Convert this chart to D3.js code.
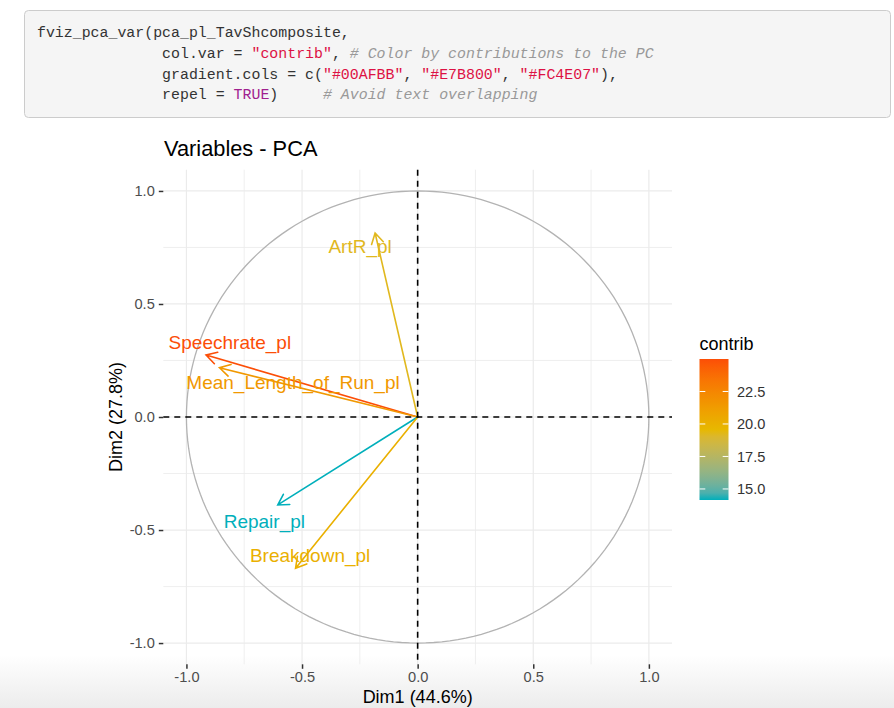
<!DOCTYPE html>
<html>
<head>
<meta charset="utf-8">
<script src="https://cdn.jsdelivr.net/npm/d3@7"></script>
<style>
  html, body { margin: 0; padding: 0; background: #fff; }
  svg { display: block; }
  text { font-family: "Liberation Sans", Arial, Helvetica, sans-serif; }
  .code { font-family: "Liberation Mono", "DejaVu Sans Mono", monospace; font-size: 14.9px; white-space: pre; }
</style>
</head>
<body>
<script>
// Variables and their coordinates on the first two dimensions.
const varNames = ["Speechrate_pl", "Mean_Length_of_Run_pl", "ArtR_pl", "Repair_pl", "Breakdown_pl"];
const dim1 = [-0.915, -0.857, -0.184, -0.605, -0.528];
const dim2 = [0.274, 0.218, 0.814, -0.389, -0.669];
const contrib = [25.0, 21.5, 19.3, 14.15, 20.05];

// Label anchors after repel (data units).
const labelDim1 = [-0.812, -0.539, -0.249, -0.663, -0.465];
const labelDim2 = [0.329, 0.156, 0.756, -0.459, -0.611];

const majorTicks = [-1, -0.5, 0, 0.5, 1];
const minorTicks = [-0.75, -0.25, 0.25, 0.75];
const legendTicks = [15, 17.5, 20, 22.5];
const gradientCols = ["#00AFBB", "#E7B800", "#FC4E07"];

// The R call shown above the chart, as [text, style] pieces.
const codeLines = [
  [["fviz_pca_var(pca_pl_TavShcomposite,", "plain"]],
  [["              col.var = ", "plain"], ["\"contrib\"", "str"], [", ", "plain"], ["# Color by contributions to the PC", "com"]],
  [["              gradient.cols = c(", "plain"], ["\"#00AFBB\"", "str"], [", ", "plain"], ["\"#E7B800\"", "str"], [", ", "plain"], ["\"#FC4E07\"", "str"], ["),", "plain"]],
  [["              repel = ", "plain"], ["TRUE", "kw"], [")     ", "plain"], ["# Avoid text overlapping", "com"]],
];
const codeColors = { plain: "#333333", str: "#dd1144", com: "#999999", kw: "#a0208f" };

const width = 894;
const height = 708;

const svg = d3.select("body").append("svg").attr("width", width).attr("height", height);

// Code block.
svg.append("rect")
  .attr("x", 24.5).attr("y", 10.5).attr("width", 866).attr("height", 107)
  .attr("rx", 4).attr("fill", "#f5f5f5").attr("stroke", "#cccccc");

codeLines.forEach((line, i) => {
  const t = svg.append("text").attr("class", "code")
    .attr("x", 37).attr("y", 37 + i * 20.8);
  line.forEach(([s, kind]) => {
    t.append("tspan").text(s)
      .attr("fill", codeColors[kind])
      .attr("font-style", kind === "com" ? "italic" : null);
  });
});

// Bottom fade from the screenshot.
const defs = svg.append("defs");
const fade = defs.append("linearGradient").attr("id", "fade")
  .attr("x1", 0).attr("y1", 0).attr("x2", 0).attr("y2", 1);
fade.append("stop").attr("offset", "0%").attr("stop-color", "#ffffff");
fade.append("stop").attr("offset", "100%").attr("stop-color", "#ececec");
svg.append("rect").attr("x", 0).attr("y", 655).attr("width", width).attr("height", height - 655)
  .attr("fill", "url(#fade)");

// Scales.
const panel = { left: 163.3, right: 672, top: 169.7, bottom: 664.3 };
const x = d3.scaleLinear().domain([-1.1, 1.1]).range([panel.left, panel.right]);
const y = d3.scaleLinear().domain([-1.094, 1.094]).range([panel.bottom, panel.top]);

const cExtent = d3.extent(contrib);
const color = d3.scaleLinear()
  .domain([cExtent[0], (cExtent[0] + cExtent[1]) / 2, cExtent[1]])
  .range(gradientCols)
  .interpolate(d3.interpolateLab);

// Grid lines.
const grid = svg.append("g").attr("stroke", "#ebebeb").attr("fill", "none");
minorTicks.forEach((v) => {
  grid.append("line").attr("x1", x(v)).attr("x2", x(v)).attr("y1", panel.top).attr("y2", panel.bottom).attr("stroke-width", 0.8);
  grid.append("line").attr("y1", y(v)).attr("y2", y(v)).attr("x1", panel.left).attr("x2", panel.right).attr("stroke-width", 0.8);
});
majorTicks.forEach((v) => {
  grid.append("line").attr("x1", x(v)).attr("x2", x(v)).attr("y1", panel.top).attr("y2", panel.bottom).attr("stroke-width", 1.2);
  grid.append("line").attr("y1", y(v)).attr("y2", y(v)).attr("x1", panel.left).attr("x2", panel.right).attr("stroke-width", 1.2);
});

// Correlation circle.
const angles = d3.range(0, 2 * Math.PI + 0.01, Math.PI / 90);
svg.append("path")
  .attr("d", d3.line().x((a) => x(Math.cos(a))).y((a) => y(Math.sin(a)))(angles))
  .attr("fill", "none").attr("stroke", "#b3b3b3").attr("stroke-width", 1.3);

// Arrows.
const vars = varNames.map((name, i) => ({
  name, x: dim1[i], y: dim2[i], c: contrib[i], lx: labelDim1[i], ly: labelDim2[i],
}));
const headLen = 12;
const gArrows = svg.append("g").attr("fill", "none").attr("stroke-width", 1.6).attr("stroke-linecap", "round");
vars.forEach((d) => {
  const x0 = x(0), y0 = y(0), x1 = x(d.x), y1 = y(d.y);
  const ang = Math.atan2(y1 - y0, x1 - x0);
  const a1 = ang + Math.PI - Math.PI / 6;
  const a2 = ang + Math.PI + Math.PI / 6;
  gArrows.append("path")
    .attr("stroke", color(d.c))
    .attr("d", `M${x0},${y0}L${x1},${y1}M${x1 + headLen * Math.cos(a1)},${y1 + headLen * Math.sin(a1)}L${x1},${y1}L${x1 + headLen * Math.cos(a2)},${y1 + headLen * Math.sin(a2)}`);
});

// Labels.
svg.append("g").selectAll("text").data(vars).join("text")
  .attr("x", (d) => x(d.lx)).attr("y", (d) => y(d.ly))
  .attr("dy", "0.36em")
  .attr("text-anchor", "middle")
  .attr("font-size", 19)
  .attr("fill", (d) => color(d.c))
  .text((d) => d.name);

// Dashed axes through the origin.
const dash = svg.append("g").attr("stroke", "#000").attr("stroke-width", 1.6).attr("stroke-dasharray", "6,5");
dash.append("line").attr("x1", panel.left).attr("x2", panel.right).attr("y1", y(0)).attr("y2", y(0));
dash.append("line").attr("x1", x(0)).attr("x2", x(0)).attr("y1", panel.top).attr("y2", panel.bottom);

// Axes (ggplot prints a plain hyphen for negatives).
const fmt = (v) => d3.format(".1f")(v).replace("\u2212", "-");
const xAxis = svg.append("g").attr("transform", `translate(0,${panel.bottom})`)
  .call(d3.axisBottom(x).tickValues(majorTicks).tickFormat(fmt).tickSize(4.5).tickPadding(3));
const yAxis = svg.append("g").attr("transform", `translate(${panel.left},0)`)
  .call(d3.axisLeft(y).tickValues(majorTicks).tickFormat(fmt).tickSize(4.5).tickPadding(4));
[xAxis, yAxis].forEach((g) => {
  g.select(".domain").remove();
  g.selectAll(".tick line").attr("stroke", "#333333").attr("stroke-width", 1.5);
  g.selectAll(".tick text").attr("fill", "#4d4d4d").attr("font-size", 14.6)
    .attr("font-family", "Liberation Sans, Arial, sans-serif");
});

svg.append("text").attr("x", x(0)).attr("y", 703).attr("text-anchor", "middle")
  .attr("font-size", 18).attr("fill", "#000").text("Dim1 (44.6%)");
svg.append("text").attr("transform", `translate(122,${y(0)}) rotate(-90)`)
  .attr("text-anchor", "middle").attr("font-size", 18).attr("fill", "#000").text("Dim2 (27.8%)");

// Title.
svg.append("text").attr("x", 164).attr("y", 156).attr("font-size", 21.8).attr("fill", "#000")
  .text("Variables - PCA");

// Legend colour bar.
const bar = { x: 699.5, w: 29, top: 359, bottom: 500 };
const lg = d3.scaleLinear().domain(cExtent).range([bar.bottom, bar.top]);
const grad = defs.append("linearGradient").attr("id", "cbar")
  .attr("x1", 0).attr("y1", 1).attr("x2", 0).attr("y2", 0);
d3.range(0, 1.0001, 0.05).forEach((t) => {
  grad.append("stop").attr("offset", `${t * 100}%`)
    .attr("stop-color", color(cExtent[0] + t * (cExtent[1] - cExtent[0])));
});
svg.append("text").attr("x", bar.x).attr("y", 350).attr("font-size", 18).attr("fill", "#000").text("contrib");
svg.append("rect").attr("x", bar.x).attr("y", bar.top).attr("width", bar.w).attr("height", bar.bottom - bar.top)
  .attr("fill", "url(#cbar)");
const lt = svg.append("g");
legendTicks.forEach((v) => {
  lt.append("line").attr("x1", bar.x).attr("x2", bar.x + bar.w / 5).attr("y1", lg(v)).attr("y2", lg(v))
    .attr("stroke", "#fff").attr("stroke-width", 1);
  lt.append("line").attr("x1", bar.x + bar.w * 4 / 5).attr("x2", bar.x + bar.w).attr("y1", lg(v)).attr("y2", lg(v))
    .attr("stroke", "#fff").attr("stroke-width", 1);
  lt.append("text").attr("x", 737).attr("y", lg(v)).attr("dy", "0.36em")
    .attr("font-size", 14.6).attr("fill", "#333").text(fmt(v));
});
</script>
</body>
</html>
